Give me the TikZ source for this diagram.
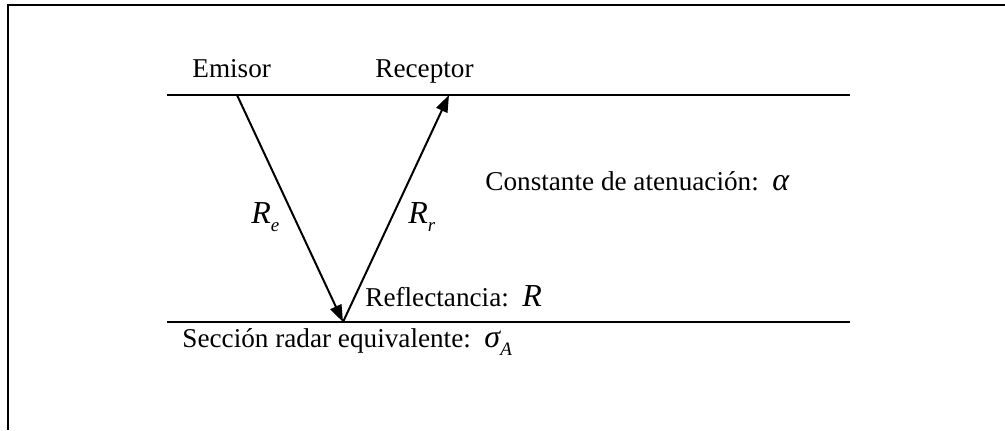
\documentclass[tikz,border=0pt]{standalone}
\usepackage{fontspec}
\setmainfont{Liberation Serif}
\usetikzlibrary{arrows.meta}
\newcommand{\sbx}[1]{\raisebox{-0.33em}{\fontsize{9.5}{10}\selectfont\itshape #1}}
\newcommand{\mvar}[1]{{\fontsize{16}{17}\selectfont\itshape #1}}
\tikzset{
  lbl/.style={anchor=base west, inner sep=0pt, font=\fontsize{13.6}{16}\selectfont},
  ray/.style={line width=1pt, -{Triangle[length=8.5pt,width=6pt]}},
  surf/.style={line width=0.9pt},
  frm/.style={line width=1pt}
}
\begin{document}
\begin{tikzpicture}[x=0.5pt,y=-0.5pt]
\useasboundingbox (0,0) rectangle (1005,430);
% frame
\coordinate (fbl) at (8,430);
\coordinate (ftl) at (8,5);
\coordinate (ftr) at (1005,5);
\draw[frm] (fbl) -- (ftl) -- (ftr);
% surfaces
\coordinate (t1) at (167,95);
\coordinate (t2) at (850,95);
\coordinate (b1) at (167,322);
\coordinate (b2) at (850,322);
\draw[surf] (t1) -- (t2);
\draw[surf] (b1) -- (b2);
% points
\coordinate (em) at (237,95);
\coordinate (refl) at (343,322);
\coordinate (rec) at (449,95);
\draw[ray] (em) -- (refl);
\draw[ray] (refl) -- (rec);
% labels
\node[lbl] (lem) at (192,77) {Emisor};
\node[lbl] (lrec) at (375,77) {Receptor};
\node[lbl] (lre) at (251,223) {\mvar{R}\sbx{e}};
\node[lbl] (lrr) at (408,223) {\mvar{R}\sbx{r}};
\node[lbl] (lat) at (485,190) {Constante de atenuación:\ \ \mvar{α}};
\node[lbl] (lref) at (365,306) {Reflectancia:\ \ \mvar{R}};
\node[lbl] (lsec) at (182,347) {Sección radar equivalente:\ \ \mvar{σ}\sbx{A}};
\end{tikzpicture}
\end{document}
